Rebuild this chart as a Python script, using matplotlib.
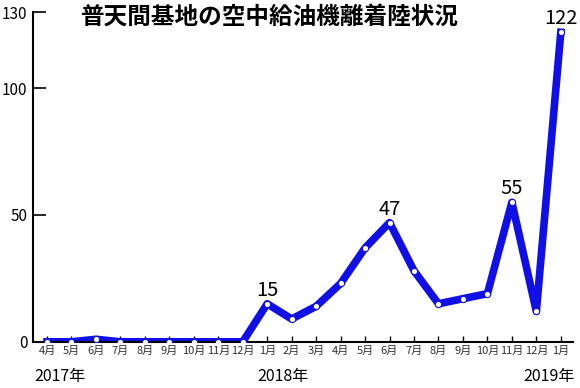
import matplotlib.pyplot as plt
import matplotlib.transforms as mtransforms

plt.rcParams['font.family'] = ['Noto Sans CJK JP', 'DejaVu Sans']

# 2017-04 .. 2019-01
months = ['4月', '5月', '6月', '7月', '8月', '9月', '10月', '11月', '12月',
          '1月', '2月', '3月', '4月', '5月', '6月', '7月', '8月', '9月', '10月', '11月', '12月',
          '1月']
counts = [0, 0, 1, 0, 0, 0, 0, 0, 0,
          15, 9, 14, 23, 37, 47, 28, 15, 17, 19, 55, 12,
          122]
labeled = [9, 14, 19, 21]
years = ['2017年', '2018年', '2019年']
year_pos = [0, 9, 21]

fig = plt.figure(figsize=(5.8, 3.88), dpi=100)
ax = fig.add_axes([0.057, 0.119, 0.931, 0.85])

x = list(range(len(counts)))
ax.plot(x, counts, color='#1010e6', lw=5.5, solid_joinstyle='round', zorder=2)
ax.plot(x, counts, ls='none', marker='o', ms=4.5, mfc='white', mec='#1010e6', mew=0.8, zorder=3)

for i in labeled:
    ax.text(i, counts[i] + 1.2, str(counts[i]), ha='center', va='bottom', fontsize=14.5)

ax.set_xlim(-0.57, 21.5)
ax.set_ylim(0, 130)
ax.set_yticks([0, 50, 100, 130])
ax.set_yticklabels(['0', '50', '100', '130'], fontsize=11)
ax.set_xticks(x)
ax.set_xticklabels(months, fontsize=8, color='#333333')
ax.tick_params(axis='y', direction='in', length=9, width=1.2, pad=4)
ax.tick_params(axis='x', direction='in', length=4, width=1, pad=3)
for s in ['top', 'right']:
    ax.spines[s].set_visible(False)
for s in ['left', 'bottom']:
    ax.spines[s].set_linewidth(1.5)

trans = mtransforms.blended_transform_factory(ax.transData, ax.transAxes)
ax.text(year_pos[0] - 0.5, -0.105, years[0], transform=trans, ha='left', va='center', fontsize=11.5)
ax.text(year_pos[1] - 0.4, -0.105, years[1], transform=trans, ha='left', va='center', fontsize=11.5)
ax.text(year_pos[2] + 0.55, -0.105, years[2], transform=trans, ha='right', va='center', fontsize=11.5)

fig.text(0.466, 0.958, '普天間基地の空中給油機離着陸状況', ha='center', va='center',
         fontsize=17, fontweight='bold')

fig.savefig('out.png', dpi=100)
